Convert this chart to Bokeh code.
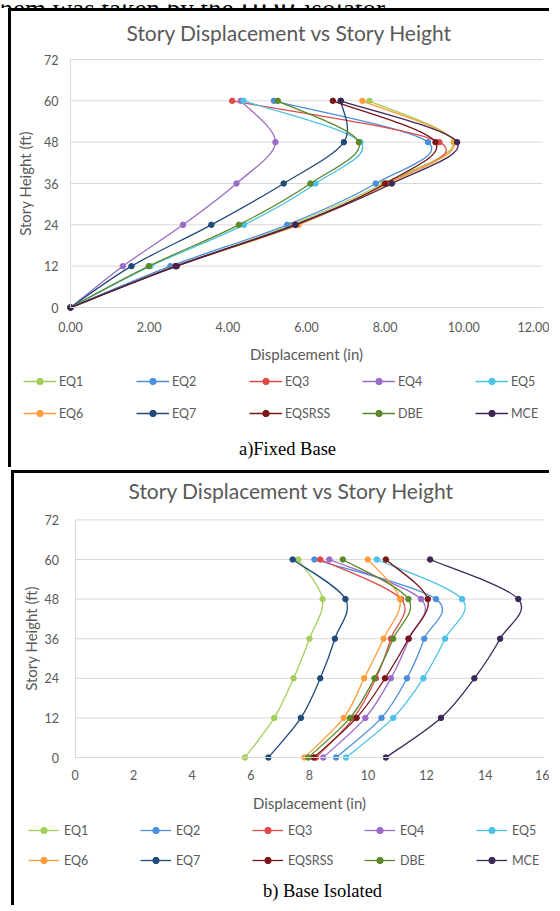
from bokeh.plotting import figure
from bokeh.models import (Range1d, FixedTicker, NumeralTickFormatter, Legend,
                          LegendItem, Label, ColumnDataSource)
from bokeh.layouts import column
from bokeh.embed import file_html
from bokeh.resources import INLINE

# ---------------- data ----------------
heights = [0, 12, 24, 36, 48, 60]
series_names = ["EQ1", "EQ2", "EQ3", "EQ4", "EQ5",
                "EQ6", "EQ7", "EQSRSS", "DBE", "MCE"]
series_colors = ["#A2CF5A", "#4A8FDB", "#E04A4A", "#9A6BC9", "#4CC3E6",
                 "#FF9D3B", "#1F4A7A", "#7A1518", "#5A8A28", "#3D2757"]

# a) Fixed Base: displacement (in) at heights 0..60 ft
fixed_EQ1 = [0, 2.68, 5.62, 7.95, 9.74, 7.60]
fixed_EQ2 = [0, 2.54, 5.51, 7.76, 9.09, 5.17]
fixed_EQ3 = [0, 2.66, 5.70, 8.05, 9.38, 4.11]
fixed_EQ4 = [0, 1.33, 2.86, 4.22, 5.21, 4.33]
fixed_EQ5 = [0, 2.03, 4.41, 6.23, 7.37, 4.40]
fixed_EQ6 = [0, 2.70, 5.80, 8.08, 9.76, 7.42]
fixed_EQ7 = [0, 1.55, 3.58, 5.42, 6.95, 6.87]
fixed_EQSRSS = [0, 2.70, 5.72, 8.00, 9.28, 6.67]
fixed_DBE = [0, 1.99, 4.28, 6.10, 7.33, 5.27]
fixed_MCE = [0, 2.68, 5.72, 8.17, 9.83, 6.87]

# b) Base Isolated
iso_EQ1 = [5.80, 6.80, 7.46, 8.00, 8.45, 7.62]
iso_EQ2 = [8.91, 10.46, 11.33, 11.92, 12.32, 8.17]
iso_EQ3 = [8.23, 9.51, 10.27, 10.78, 11.13, 8.37]
iso_EQ4 = [8.47, 9.91, 10.78, 11.40, 11.81, 8.68]
iso_EQ5 = [9.25, 10.86, 11.89, 12.63, 13.21, 10.30]
iso_EQ6 = [7.83, 9.17, 9.87, 10.53, 11.09, 9.99]
iso_EQ7 = [6.60, 7.71, 8.37, 8.87, 9.23, 7.43]
iso_EQSRSS = [8.15, 9.61, 10.58, 11.38, 12.04, 10.61]
iso_DBE = [7.96, 9.39, 10.22, 10.86, 11.38, 9.14]
iso_MCE = [10.61, 12.49, 13.63, 14.51, 15.13, 12.12]

fixed_series = [fixed_EQ1, fixed_EQ2, fixed_EQ3, fixed_EQ4, fixed_EQ5,
                fixed_EQ6, fixed_EQ7, fixed_EQSRSS, fixed_DBE, fixed_MCE]
iso_series = [iso_EQ1, iso_EQ2, iso_EQ3, iso_EQ4, iso_EQ5,
              iso_EQ6, iso_EQ7, iso_EQSRSS, iso_DBE, iso_MCE]

y_ticks = [0, 12, 24, 36, 48, 60, 72]
fixed_x_ticks = [0, 2, 4, 6, 8, 10, 12]
iso_x_ticks = [0, 2, 4, 6, 8, 10, 12, 14, 16]

page_text = "hem was taken by the HDR isolator."
chart_title = "Story Displacement vs Story Height"
x_label = "Displacement (in)"
y_label = "Story Height (ft)"
caption_a = "a)Fixed Base"
caption_b = "b) Base Isolated"

TEXT = "#595959"
GRID = "#d9d9d9"
FONT = "Lato"
BORDER = "3px solid black"


def smooth_segments(xs, ys):
    """Bezier control points of an Excel-like smoothed line through the points."""
    n = len(xs)
    seg = dict(x0=[], y0=[], x1=[], y1=[], cx0=[], cy0=[], cx1=[], cy1=[])
    for i in range(n - 1):
        a = max(i - 1, 0)
        d = min(i + 2, n - 1)
        seg["x0"].append(xs[i]); seg["y0"].append(ys[i])
        seg["x1"].append(xs[i + 1]); seg["y1"].append(ys[i + 1])
        seg["cx0"].append(xs[i] + (xs[i + 1] - xs[a]) / 6.0)
        seg["cy0"].append(ys[i] + (ys[i + 1] - ys[a]) / 6.0)
        seg["cx1"].append(xs[i + 1] - (xs[d] - xs[i]) / 6.0)
        seg["cy1"].append(ys[i + 1] - (ys[d] - ys[i]) / 6.0)
    return seg


def make_block(series, x_max, x_ticks, x_fmt, W, H, plot_box, caption,
               title_xy, cap_xy, leg_xy, glyph_w, standoff, label_w, spacing,
               x_tick_standoff, x_lab_standoff, y_tick_standoff, y_lab_standoff):
    # plot_box: pixel box of the plot area inside the canvas (left, right, top, bottom)
    left, right, top, bottom = plot_box
    sx = (right - left) / x_max
    sy = (bottom - top) / 72.0
    xr = Range1d(-left / sx, x_max + (W - right) / sx)
    yr = Range1d(-(H - bottom) / sy, 72 + top / sy)

    p = figure(width=W, height=H, x_range=xr, y_range=yr, output_backend="svg",
               toolbar_location=None, title=None, min_border=0)
    p.outline_line_color = None
    p.background_fill_color = "white"
    p.border_fill_color = "white"
    p.xgrid.visible = False
    p.ygrid.visible = False

    # horizontal gridlines at the y ticks, across the plot area
    p.segment(x0=[0] * len(y_ticks), x1=[x_max] * len(y_ticks), y0=y_ticks,
              y1=y_ticks, line_color=GRID, line_width=1)

    xa = p.xaxis[0]
    xa.ticker = FixedTicker(ticks=x_ticks)
    xa.formatter = NumeralTickFormatter(format=x_fmt)
    xa.fixed_location = 0
    xa.bounds = (0, x_max)
    ya = p.yaxis[0]
    ya.ticker = FixedTicker(ticks=y_ticks)
    ya.fixed_location = 0
    ya.bounds = (0, 72)
    for ax in (xa, ya):
        ax.axis_line_color = GRID
        ax.major_tick_line_color = None
        ax.minor_tick_line_color = None
        ax.major_tick_out = 0
        ax.major_tick_in = 0
        ax.minor_tick_out = 0
        ax.minor_tick_in = 0
        ax.major_label_text_font = FONT
        ax.major_label_text_font_size = "12.5px"
        ax.major_label_text_color = TEXT
        ax.axis_label_text_font = FONT
        ax.axis_label_text_font_size = "15px"
        ax.axis_label_text_font_style = "normal"
        ax.axis_label_text_color = TEXT
    xa.axis_label = x_label
    ya.axis_label = y_label
    xa.major_label_standoff = x_tick_standoff
    xa.axis_label_standoff = x_lab_standoff
    ya.major_label_standoff = y_tick_standoff
    ya.axis_label_standoff = y_lab_standoff

    items = []
    for name, col, xs in zip(series_names, series_colors, series):
        src = ColumnDataSource(smooth_segments(xs, heights))
        b = p.bezier(x0="x0", y0="y0", x1="x1", y1="y1", cx0="cx0", cy0="cy0",
                     cx1="cx1", cy1="cy1", source=src, line_color=col,
                     line_width=1.3)
        s = p.scatter(xs, heights, size=5.5, marker="circle", fill_color=col,
                      line_color=col)
        items.append(LegendItem(label=name, renderers=[b, s]))

    leg = Legend(items=items, orientation="horizontal", ncols=5,
                 location=leg_xy)
    leg.glyph_width = glyph_w
    leg.glyph_height = 16
    leg.label_height = 16
    leg.label_width = label_w
    leg.label_standoff = standoff
    leg.spacing = spacing
    leg.padding = 0
    leg.margin = 0
    leg.border_line_color = None
    leg.background_fill_alpha = 0
    leg.label_text_font = FONT
    leg.label_text_font_size = "12.5px"
    leg.label_text_color = TEXT
    p.add_layout(leg, "center")

    p.add_layout(Label(x=title_xy[0], y=title_xy[1], x_units="screen",
                       y_units="screen", text=chart_title, text_align="center",
                       text_baseline="middle", text_font=FONT,
                       text_font_size="21px", text_color=TEXT))
    p.add_layout(Label(x=cap_xy[0], y=cap_xy[1], x_units="screen",
                       y_units="screen", text=caption, text_align="center",
                       text_baseline="middle", text_font="Liberation Serif",
                       text_font_size="18.5px", text_color="black"))
    return p


# strip of the page text above the figure (only its lower part is on the page)
header = figure(width=552, height=8, x_range=Range1d(0, 552),
                y_range=Range1d(0, 8), output_backend="svg",
                toolbar_location=None, title=None, min_border=0,
                x_axis_type=None, y_axis_type=None)
header.outline_line_color = None
header.grid.visible = False
header.border_fill_color = "white"
header.add_layout(Label(x=-1, y=3.5, x_units="screen", y_units="screen",
                        text=page_text, text_align="left",
                        text_baseline="alphabetic",
                        text_font="Liberation Serif", text_font_size="27px",
                        text_color="black"))

# top block: canvas at page (11, 11), 541 x 459
top_block = make_block(fixed_series, 12, fixed_x_ticks, "0.00", 541, 459,
                       (59, 531, 48, 296), caption_a,
                       (278, 438), (276, 22), (12, 49),
                       33, 3, 61, 16, 14, 10, 12, 7)
top_block.styles = {"border-left": BORDER, "border-top": BORDER,
                    "margin-left": "8px"}

# bottom block: canvas at page (14, 473), 538 x 435
bottom_block = make_block(iso_series, 16, iso_x_ticks, "0", 538, 435,
                          (60.5, 529.3, 46.4, 284), caption_b,
                          (277, 418), (308, 18), (14, 40),
                          31, 5, 62, 14, 12, 11, 16, 2)
bottom_block.styles = {"border-left": BORDER, "border-top": BORDER,
                       "margin-left": "11px", "margin-top": "3px"}

layout = column(header, top_block, bottom_block, spacing=0)
open("out.html", "w").write(file_html(layout, INLINE))
